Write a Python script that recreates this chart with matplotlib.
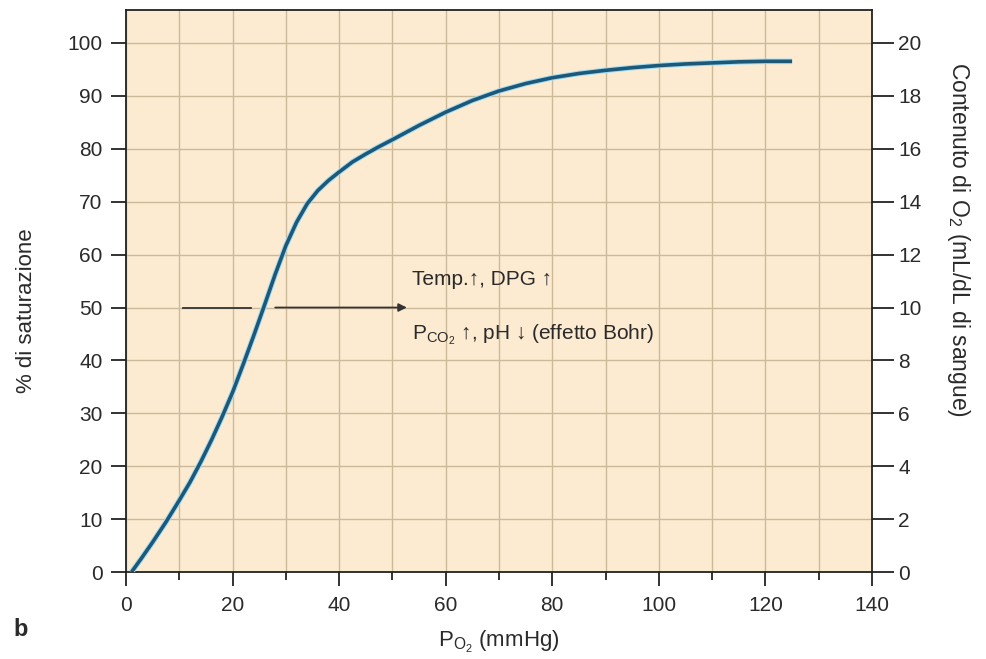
import matplotlib
matplotlib.use("Agg")
import matplotlib.pyplot as plt
import matplotlib.patheffects as pe
from matplotlib.ticker import MultipleLocator

plt.rcParams["font.family"] = ["Liberation Sans", "DejaVu Sans"]
plt.rcParams["mathtext.fontset"] = "custom"
plt.rcParams["mathtext.rm"] = "Liberation Sans"
plt.rcParams["mathtext.it"] = "Liberation Sans:italic"
plt.rcParams["mathtext.bf"] = "Liberation Sans:bold"

# oxygen dissociation curve (PO2 mmHg, % saturation)
po2 = [1, 3, 5, 7.5, 10, 12, 14, 16, 18, 20, 22, 24, 26, 28, 30, 32, 34, 36,
       38, 40, 42.5, 45, 47.5, 50, 55, 60, 65, 70, 75, 80, 85, 90, 95, 100,
       105, 110, 115, 120, 125]
sat = [0, 2.8, 5.7, 9.5, 13.6, 17.0, 20.8, 24.9, 29.3, 34.0, 39.3, 44.8, 50.5,
       56.3, 61.7, 66.1, 69.6, 72.1, 74.0, 75.6, 77.5, 79.0, 80.4, 81.7, 84.4,
       86.9, 89.1, 90.9, 92.3, 93.4, 94.2, 94.8, 95.3, 95.7, 96.0, 96.2, 96.4,
       96.5, 96.5]

# shift arrow at 50 % saturation (x start/end of the two pieces)
arrow_left = (10.6, 23.4)
arrow_right = (28.0, 52.7)
arrow_y = 50

BG = "#fcebd0"
GRID = "#cbb99a"
CURVE = "#1d5878"
TXT = "#2a2a2a"

fig = plt.figure(figsize=(9.87, 6.59), dpi=100)
ax = fig.add_axes([0.1277, 0.1316, 0.7558, 0.8533])
ax.set_facecolor(BG)

ax.set_xlim(0, 140)
ax.set_ylim(0, 106.2)
ax.xaxis.set_major_locator(MultipleLocator(20))
ax.xaxis.set_minor_locator(MultipleLocator(10))
ax.set_yticks(range(0, 101, 10))
ax.grid(which="both", axis="x", color=GRID, lw=1.0)
ax.grid(which="major", axis="y", color=GRID, lw=1.0)
ax.set_axisbelow(True)

for s in ax.spines.values():
    s.set_color("#222222")
    s.set_linewidth(1.3)

ax.tick_params(axis="x", which="major", direction="out", length=10, width=1.3,
               pad=7, labelsize=15, colors="#222222", labelcolor=TXT)
ax.tick_params(axis="x", which="minor", direction="out", length=6, width=1.3,
               colors="#222222")
ax.tick_params(axis="y", which="major", direction="out", length=11, width=1.3,
               pad=6, labelsize=15, colors="#222222", labelcolor=TXT)

ax.plot(po2, sat, color=CURVE, lw=2.6, solid_capstyle="butt",
        solid_joinstyle="round", zorder=4,
        path_effects=[pe.Stroke(linewidth=4.0, foreground="#9fdcf5"), pe.Normal()])

# the shift arrow
ax.plot(arrow_left, [arrow_y, arrow_y], color="#333333", lw=1.3, zorder=3)
ax.annotate("", xy=(arrow_right[1], arrow_y), xytext=(arrow_right[0], arrow_y),
            arrowprops=dict(arrowstyle="-|>", color="#333333", lw=1.3,
                            mutation_scale=12, shrinkA=0, shrinkB=0), zorder=3)

ax.text(53.6, 55.3, "Temp.\u2191, DPG \u2191", fontsize=15, color=TXT,
        va="center", ha="left")
ax.text(53.6, 44.8, r"P$_{\mathrm{CO_2}}$" + " \u2191, pH \u2193 (effetto Bohr)",
        fontsize=15, color=TXT, va="center", ha="left")

ax.set_ylabel("% di saturazione", fontsize=16, color=TXT)
ax.yaxis.set_label_coords(-0.119, 0.466)
ax.set_xlabel(r"P$_{\mathrm{O_2}}$ (mmHg)", fontsize=16, color=TXT, labelpad=10)

# right axis: O2 content
ax2 = ax.twinx()
ax2.set_ylim(0, 106.2 / 5)
ax2.set_yticks(range(0, 21, 2))
ax2.tick_params(axis="y", direction="out", length=16, width=1.3, pad=3,
                labelsize=15, colors="#222222", labelcolor=TXT)
for s in ax2.spines.values():
    s.set_visible(False)
ax2.set_ylabel(r"Contenuto di O$_2$ (mL/dL di sangue)", fontsize=16.5,
               color=TXT, rotation=270, va="center")
ax2.yaxis.set_label_coords(1.116, 0.591)

fig.text(0.014, 0.035, "b", fontsize=17, fontweight="bold", color=TXT)

fig.savefig("out.png", dpi=100, facecolor="white")
